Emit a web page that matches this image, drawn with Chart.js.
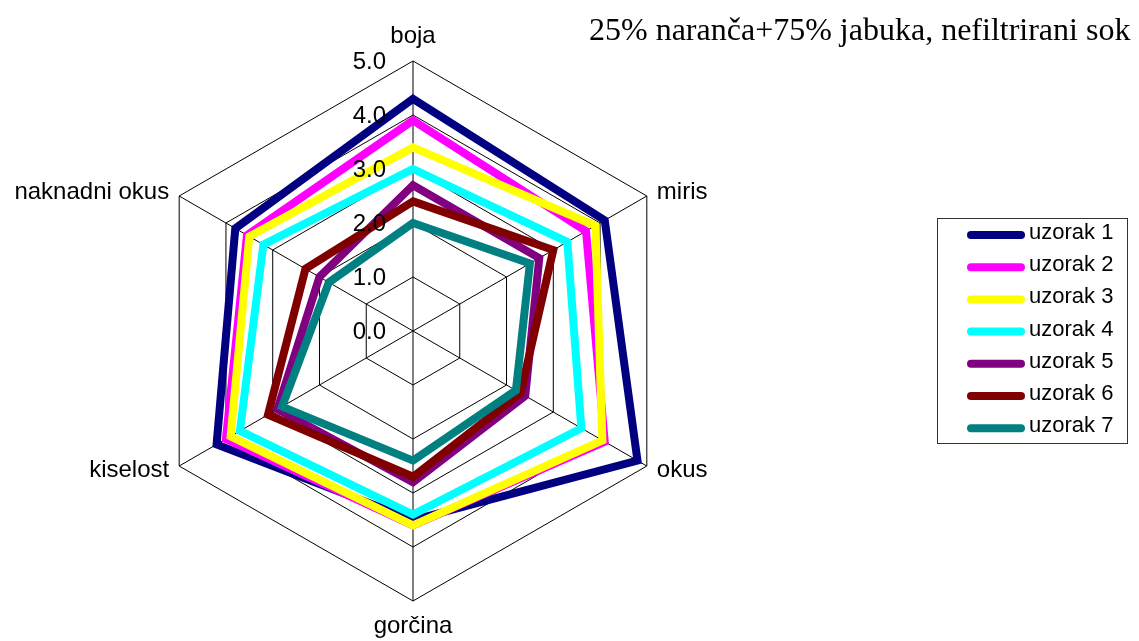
<!DOCTYPE html>
<html>
<head>
<meta charset="utf-8">
<title>25% naranča+75% jabuka, nefiltrirani sok</title>
<script src="https://cdn.jsdelivr.net/npm/chart.js@4.4.1/dist/chart.umd.min.js"></script>
<style>
	html, body { margin: 0; padding: 0; background: #fff; }
	#wrap { width: 1139px; height: 641px; }
</style>
</head>
<body>
<div id="wrap"><canvas id="radarChart" width="1139" height="641"></canvas></div>
<script>
// Data
const categories = ['boja', 'miris', 'okus', 'gorčina', 'kiselost', 'naknadni okus'];
const tickValues = [0, 1, 2, 3, 4, 5];
const tickLabels = ['0.0', '1.0', '2.0', '3.0', '4.0', '5.0'];
const seriesNames = ['uzorak 1', 'uzorak 2', 'uzorak 3', 'uzorak 4', 'uzorak 5', 'uzorak 6', 'uzorak 7'];

const uzorak1 = [4.3, 4.1, 4.8, 3.5, 4.2, 3.8];
const uzorak2 = [3.9, 3.7, 4.1, 3.6, 4.0, 3.55];
const uzorak3 = [3.4, 3.9, 4.05, 3.6, 3.9, 3.5];
const uzorak4 = [3.0, 3.3, 3.6, 3.4, 3.7, 3.2];
const uzorak5 = [2.7, 2.7, 2.4, 2.8, 2.9, 2.0];
const uzorak6 = [2.4, 3.0, 2.3, 2.7, 3.1, 2.3];
const uzorak7 = [2.0, 2.5, 2.2, 2.4, 2.8, 1.8];

const titleText = '25% naranča+75% jabuka, nefiltrirani sok';

// Excel style colours
const seriesColors = ['#000080', '#FF00FF', '#FFFF00', '#00FFFF', '#800080', '#800000', '#008080'];
const sansFont = "'Liberation Sans', Arial, sans-serif";
const serifFont = "'Liberation Serif', 'Times New Roman', serif";

const allSeries = [uzorak1, uzorak2, uzorak3, uzorak4, uzorak5, uzorak6, uzorak7];

// Axis names, tick labels, title and legend box drawn on top of the chart
const extrasPlugin = {
	id: 'extras',
	afterDraw(chart) {
		const ctx = chart.ctx;
		const scale = chart.scales.r;
		ctx.save();
		ctx.fillStyle = '#000';
		ctx.textBaseline = 'middle';

		// axis names
		ctx.font = '24px ' + sansFont;
		categories.forEach((name, i) => {
			const p = scale.getPointPosition(i, scale.drawingArea);
			const cos = Math.cos(p.angle);
			const sin = Math.sin(p.angle);
			if (Math.abs(cos) < 0.1) {
				ctx.textAlign = 'center';
				ctx.fillText(name, p.x, p.y + sin * 25);
			} else {
				ctx.textAlign = cos > 0 ? 'left' : 'right';
				ctx.fillText(name, p.x + Math.sign(cos) * 10, p.y + sin * 8);
			}
		});

		// value labels up the vertical axis
		ctx.textAlign = 'right';
		tickValues.forEach((v, i) => {
			const d = scale.getDistanceFromCenterForValue(v);
			ctx.fillText(tickLabels[i], scale.xCenter - 27, scale.yCenter - d + 1);
		});

		// title
		ctx.font = '32px ' + serifFont;
		ctx.textAlign = 'left';
		ctx.textBaseline = 'alphabetic';
		ctx.fillText(titleText, 589, 40);

		// legend
		ctx.strokeStyle = '#333';
		ctx.lineWidth = 1;
		ctx.strokeRect(937.5, 218.5, 190, 225);
		ctx.font = '22px ' + sansFont;
		ctx.textBaseline = 'middle';
		chart.data.datasets.forEach((ds, i) => {
			const y = 235 + i * 32.2;
			ctx.strokeStyle = ds.borderColor;
			ctx.lineWidth = 8;
			ctx.lineCap = 'round';
			ctx.beginPath();
			ctx.moveTo(971, y);
			ctx.lineTo(1021, y);
			ctx.stroke();
			ctx.fillStyle = '#000';
			ctx.fillText(ds.label, 1029, y - 2);
		});
		ctx.restore();
	},
};

const ctxRadar = document.getElementById('radarChart').getContext('2d');

const radarChart = new Chart(ctxRadar, {
	type: 'radar',
	data: {
		labels: categories,
		datasets: allSeries.map((values, i) => ({
			label: seriesNames[i],
			data: values,
			borderColor: seriesColors[i],
			backgroundColor: 'transparent',
			borderWidth: 8,
			borderJoinStyle: 'miter',
			pointRadius: 0,
			pointHoverRadius: 0,
			fill: false,
			// later series are painted over earlier ones, as in the original
			order: allSeries.length - 1 - i,
		})),
	},
	options: {
		responsive: false,
		animation: false,
		devicePixelRatio: 1,
		layout: {
			padding: { top: 61, bottom: 40, left: 143, right: 456 },
		},
		scales: {
			r: {
				min: 0,
				max: 5,
				ticks: { display: false, stepSize: 1 },
				grid: { color: '#000', lineWidth: 1 },
				angleLines: { color: '#000', lineWidth: 1 },
				pointLabels: { display: false },
			},
		},
		plugins: {
			legend: { display: false },
			tooltip: { enabled: false },
		},
	},
	plugins: [extrasPlugin],
});
</script>
</body>
</html>
